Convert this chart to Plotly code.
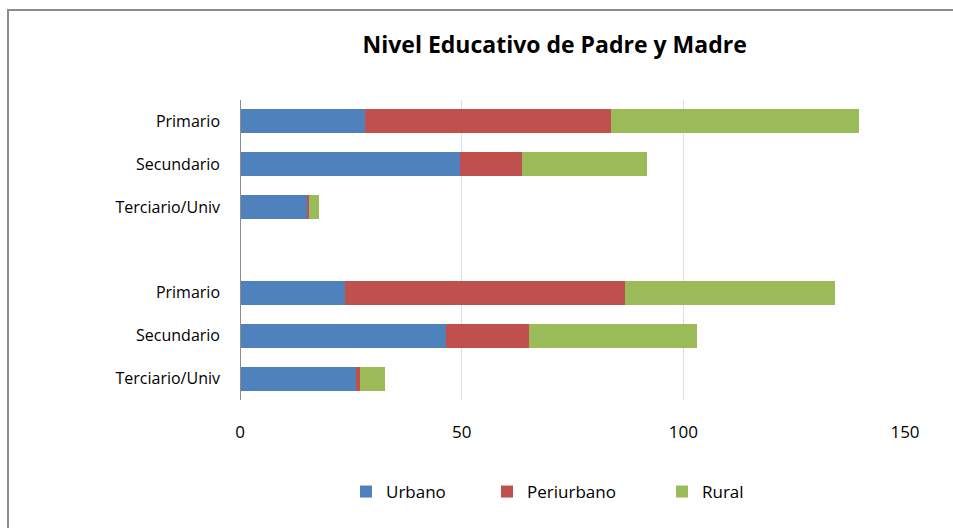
import plotly.graph_objects as go

# Categories, top to bottom (blank slot separates the two groups)
categories = ["Primario", "Secundario", "Terciario/Univ", "",
              "Primario", "Secundario", "Terciario/Univ"]
positions = [0, 1, 2, 3, 4, 5, 6]

urbano = [28.3, 49.6, 15.0, None, 23.7, 46.5, 26.1]
periurbano = [55.3, 13.9, 0.5, None, 63.1, 18.6, 1.0]
rural = [56.0, 28.3, 2.3, None, 47.3, 38.0, 5.6]

series = [
    ("Urbano", urbano, "#4f81bd"),
    ("Periurbano", periurbano, "#c0504d"),
    ("Rural", rural, "#9bbb59"),
]

FONT = "Open Sans"
W, H = 953, 528
L, R, T, B = 240, 48, 100, 128
PW, PH = W - L - R, H - T - B


def px_x(px):
    return (px - L) / PW


def px_y(py):
    return (H - B - py) / PH


fig = go.Figure()
legend_ids = ["legend", "legend2", "legend3"]
legend_text_x = [384, 525, 700]
for (name, vals, color), lid in zip(series, legend_ids):
    fig.add_trace(go.Bar(
        y=positions,
        x=vals,
        name=name,
        orientation="h",
        legend=lid,
        marker=dict(color=color, line=dict(width=0)),
    ))

# one legend per series so each entry sits where it does in the original
legends = {}
for lid, tx in zip(legend_ids, legend_text_x):
    legends[lid] = dict(
        orientation="h",
        x=px_x(tx - 38), xanchor="left",
        y=px_y(492), yanchor="middle",
        font=dict(family=FONT, size=17, color="#000000"),
        bgcolor="rgba(0,0,0,0)",
    )

fig.update_layout(
    barmode="stack",
    bargap=0.44,
    width=W,
    height=H,
    margin=dict(l=L, r=R, t=T, b=B),
    plot_bgcolor="white",
    paper_bgcolor="white",
    font=dict(family=FONT, size=17, color="#000000"),
    title=dict(
        text="<b>Nivel Educativo de Padre y Madre</b>",
        x=0.582, xanchor="center",
        y=1 - 45 / H, yanchor="middle",
        font=dict(family=FONT, size=23, color="#000000"),
    ),
    showlegend=True,
    shapes=[dict(
        type="rect", xref="paper", yref="paper",
        x0=px_x(8), x1=px_x(W + 20), y0=px_y(H + 20), y1=px_y(10),
        line=dict(color="#8c8c8c", width=2),
    )],
    **legends,
)

fig.update_xaxes(
    range=[0, 150],
    tickvals=[0, 50, 100, 150],
    showgrid=True, gridcolor="#d6def0", gridwidth=1,
    zeroline=False, showline=False,
    tickfont=dict(family=FONT, size=17),
    ticks="", ticklabelstandoff=20,
)
fig.update_yaxes(
    tickvals=positions,
    ticktext=categories,
    range=[6.5, -0.5],
    showgrid=False, zeroline=False,
    tickfont=dict(family=FONT, size=16),
    ticks="", ticklabelstandoff=19,
)
# vertical category axis line at x = 0
fig.add_vline(x=0, line=dict(color="#8c8c8c", width=2))

fig.write_html("out.html",
               config={"displayModeBar": False},
               post_script="document.body.style.margin='0';")
